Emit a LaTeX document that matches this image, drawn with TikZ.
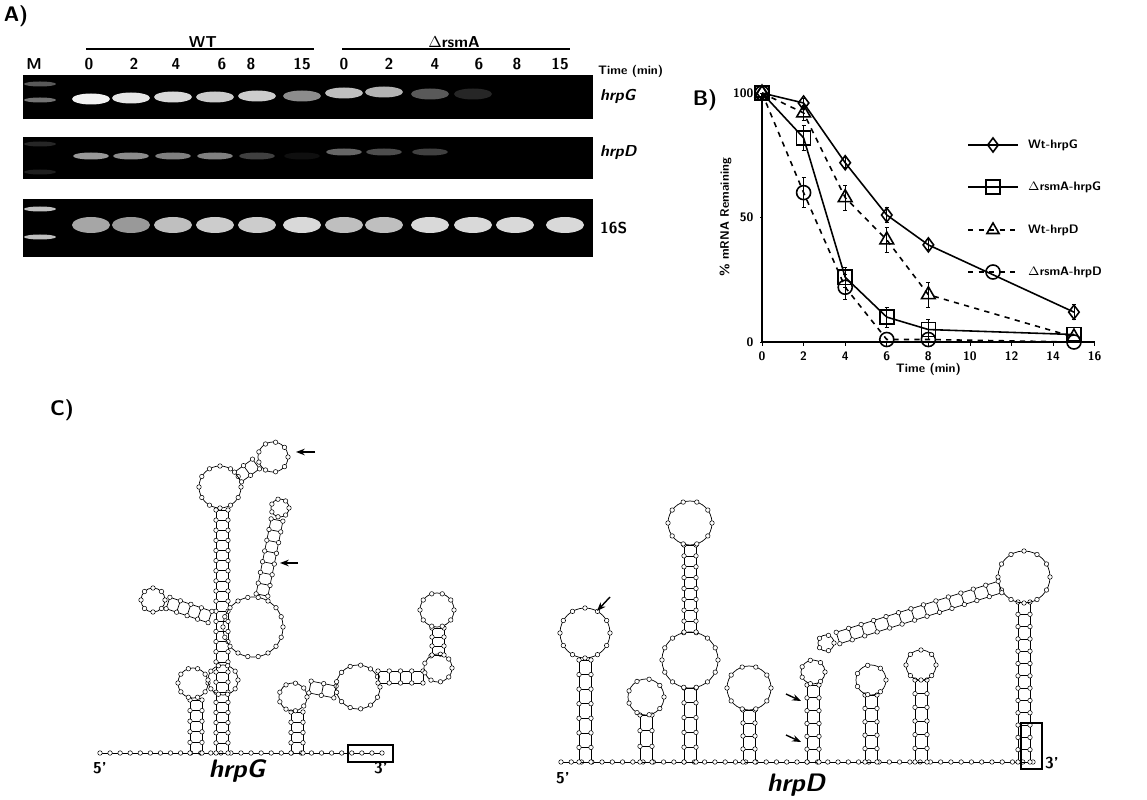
\documentclass[tikz,border=0pt]{standalone}
\usepackage{tikz}
\usetikzlibrary{positioning,calc,arrows.meta,plotmarks}
\tikzset{
  lbl/.style={font=\sffamily\bfseries\small},
  panel/.style={font=\sffamily\bfseries\large},
  band/.style={fill=white,opacity=#1},
  bead/.style={draw,fill=white,line width=0.3pt},
  rna/.style={line width=0.4pt},
  ptr/.style={-{Stealth[length=5pt]},line width=0.8pt},
}
% ring of bases
\newcommand*{\rloop}[4]{%
  \draw[rna] (#1,#2) circle[radius=#3*0.02cm];
  \foreach \k in {1,...,#4}{\draw[bead] ($(#1,#2)+(\k*360/#4:#3)$) circle[radius=0.045cm];}}
% paired stem from (x1,y1) to (x2,y2)
\newcommand*{\stem}[5]{%
  \coordinate (sa) at ($(#1,#2)!0.12cm!90:(#3,#4)$);
  \coordinate (sb) at ($(#3,#4)!0.12cm!-90:(#1,#2)$);
  \coordinate (sc) at ($(#1,#2)!0.12cm!-90:(#3,#4)$);
  \coordinate (sd) at ($(#3,#4)!0.12cm!90:(#1,#2)$);
  \draw[rna] (sa) -- (sb) (sc) -- (sd);
  \foreach \k in {0,...,#5}{
    \draw[rna] ($(sa)!\k/#5!(sb)$) -- ($(sc)!\k/#5!(sd)$);
    \draw[bead] ($(sa)!\k/#5!(sb)$) circle[radius=0.045cm];
    \draw[bead] ($(sc)!\k/#5!(sd)$) circle[radius=0.045cm];}}
\newcommand*{\strand}[5]{%
  \draw[rna] (#1,#2) -- (#3,#4);
  \foreach \k in {0,...,#5}{\draw[bead] ($(#1,#2)!\k/#5!(#3,#4)$) circle[radius=0.045cm];}}

\begin{document}
\begin{tikzpicture}[x=0.02cm,y=-0.02cm]
\useasboundingbox (0,0) rectangle (1147,800);
%% Panel A: gels
\node[panel] (pa) at (16,16) {A)};
\node[lbl] (wt) at (203,42) {WT};
\node[lbl] (ko) at (454,42) {$\Delta$rsmA};
\draw[line width=1.4pt] (86,49) -- (314,49) (342,49) -- (570,49);
\node[lbl] (lm) at (34,64) {M};
\foreach \x/\t in {89/0,134/2,176/4,222/6,251/8,302/15,344/0,389/2,435/4,479/6,517/8,560/15}
  \node[lbl] at (\x,64) {\t};
\node[lbl,font=\sffamily\bfseries\scriptsize,anchor=west] (tm) at (592,71) {Time (min)};
\fill[black] (23,75) rectangle (593,119);
\fill[black] (23,137) rectangle (593,179);
\fill[black] (23,199) rectangle (593,257);
\node[lbl,font=\sffamily\bfseries\itshape\small,anchor=west] (g1) at (594,96) {hrpG};
\node[lbl,font=\sffamily\bfseries\itshape\small,anchor=west] (g2) at (594,153) {hrpD};
\node[lbl,anchor=west] (g3) at (594,228) {16S};
% marker lanes
\foreach \y/\o in {84/0.35,100/0.45,144/0.15,172/0.12,209/0.75,237/0.75}
  \fill[band=\o] (40,\y) ellipse[x radius=0.32cm,y radius=0.05cm];
\foreach \x/\y/\o in {91/99/0.95,131/98/0.9,173/97/0.85,215/97/0.8,257/96/0.8,302/96/0.55,344/93/0.75,384/92/0.7,430/94/0.35,473/94/0.15}{
  \fill[band=\o] (\x,\y) ellipse[x radius=0.38cm,y radius=0.11cm];}
\foreach \x/\y/\o in {91/156/0.6,131/156/0.55,173/156/0.5,215/156/0.5,257/156/0.25,302/156/0.06,344/152/0.4,384/152/0.3,430/152/0.25}{
  \fill[band=\o] (\x,\y) ellipse[x radius=0.36cm,y radius=0.07cm];}
\foreach \x/\o in {91/0.65,131/0.6,173/0.75,215/0.8,257/0.8,302/0.85,344/0.75,384/0.75,430/0.85,473/0.85,515/0.85,565/0.85}{
  \fill[band=\o] (\x,225) ellipse[x radius=0.38cm,y radius=0.16cm];}
%% Panel B: decay plot
\node[panel] (pb) at (705,100) {B)};
\begin{scope}[shift={(762,342)},x=0.416cm,y=0.0498cm]
  \draw[line width=0.6pt] (0,0) -- (16,0) (0,0) -- (0,100);
  \foreach \t in {0,2,...,16}{
    \draw (\t,0) -- (\t,-1.5);
    \node[lbl,font=\sffamily\bfseries\scriptsize,below] at (\t,-1.5) {\t};}
  \foreach \p in {0,50,100}{
    \draw (0,\p) -- (-0.12,\p);
    \node[lbl,font=\sffamily\bfseries\scriptsize,left] at (-0.12,\p) {\p};}
  \node[lbl,font=\sffamily\bfseries\scriptsize] (xl) at (8,-11) {Time (min)};
  \node[lbl,font=\sffamily\bfseries\scriptsize,rotate=90] (yl) at (-1.75,50) {\% mRNA Remaining};
  \draw[line width=0.9pt,mark=diamond,mark size=4pt,mark options={solid,fill=white}]
    plot coordinates {(0,100) (2,96) (4,72) (6,51) (8,39) (15,12)};
  \draw[line width=0.9pt,mark=square,mark size=4pt,mark options={solid,fill=white}]
    plot coordinates {(0,100) (2,82) (4,26) (6,10) (8,5) (15,3)};
  \draw[line width=0.9pt,dashed,mark=triangle,mark size=4.5pt,mark options={solid,fill=white}]
    plot coordinates {(0,100) (2,92) (4,58) (6,41) (8,19) (15,2)};
  \draw[line width=0.9pt,dashed,mark=o,mark size=4pt,mark options={solid,fill=white}]
    plot coordinates {(0,100) (2,60) (4,22) (6,1) (8,1) (15,0)};
  \foreach \t/\p/\e in {2/96/2,4/72/2,6/51/3,8/39/2,15/12/3,2/82/5,4/26/4,6/10/4,8/5/4,2/92/3,4/58/5,6/41/5,8/19/5,2/60/6,4/22/5}
    \draw[line width=0.5pt] (\t,\p-\e) -- (\t,\p+\e) (\t-0.1,\p+\e) -- (\t+0.1,\p+\e) (\t-0.1,\p-\e) -- (\t+0.1,\p-\e);
\end{scope}
% legend
\foreach \y/\d/\m/\t in {145/solid/diamond/Wt-hrpG,187/solid/square/$\Delta$rsmA-hrpG,230/dashed/triangle/Wt-hrpD,272/dashed/o/$\Delta$rsmA-hrpD}{
  \draw[line width=0.9pt,\d] (968,\y) -- (1018,\y);
  \draw[mark=\m,mark size=4pt,mark options={solid,fill=white},line width=0.9pt] plot coordinates {(993,\y)};
  \node[lbl,font=\sffamily\bfseries\scriptsize,anchor=west] at (1022,\y) {\t};}
%% Panel C: secondary structures
\node[panel] (pc) at (62,410) {C)};
% hrpG
\strand{100}{753}{382}{753}{28}
\stem{196}{753}{196}{700}{5}
\rloop{193}{683}{15}{10}
\stem{222}{753}{222}{510}{24}
\rloop{220}{487}{21}{12}
\stem{238}{477}{256}{464}{2}
\rloop{273}{457}{15}{9}
\rloop{253}{627}{30}{18}
\stem{262}{595}{277}{520}{7}
\rloop{280}{508}{9}{7}
\stem{210}{617}{168}{603}{4}
\rloop{153}{600}{12}{8}
\rloop{223}{680}{15}{10}
\stem{297}{753}{297}{712}{4}
\rloop{293}{697}{14}{9}
\stem{310}{687}{335}{692}{2}
\rloop{358}{687}{22}{13}
\stem{378}{677}{423}{677}{4}
\rloop{438}{668}{14}{9}
\stem{438}{655}{438}{628}{3}
\rloop{437}{610}{17}{10}
\draw[thick] (348,745) rectangle (393,762);
\node[lbl] (g5) at (100,768) {5'};
\node[lbl] (g3e) at (381,768) {3'};
\node[font=\sffamily\bfseries\itshape\Large] (gname) at (237,771) {hrpG};
\draw[ptr] (315,452) -- (296,452);
\draw[ptr] (298,563) -- (280,563);
% hrpD
\strand{561}{762}{1033}{762}{46}
\stem{585}{762}{585}{660}{7}
\rloop{585}{633}{25}{12}
\stem{646}{762}{646}{715}{3}
\rloop{646}{697}{18}{9}
\stem{690}{762}{690}{688}{5}
\rloop{690}{660}{28}{14}
\stem{690}{632}{690}{545}{8}
\rloop{690}{523}{22}{10}
\stem{749}{762}{749}{710}{4}
\rloop{749}{688}{22}{10}
\stem{813}{762}{813}{685}{6}
\rloop{813}{672}{12}{7}
\stem{871}{762}{871}{695}{5}
\rloop{871}{680}{15}{7}
\stem{921}{762}{921}{680}{6}
\rloop{921}{665}{15}{8}
\stem{1024}{762}{1024}{602}{13}
\rloop{1024}{577}{26}{12}
\stem{1000}{587}{838}{638}{13}
\rloop{826}{643}{8}{5}
\draw[thick] (1021,723) rectangle (1042,769);
\node[lbl] (d5) at (563,778) {5'};
\node[lbl] (d3e) at (1052,763) {3'};
\node[font=\sffamily\bfseries\itshape\Large] (dname) at (796,785) {hrpD};
\draw[ptr] (610,597) -- (597,611);
\draw[ptr] (786,694) -- (801,701);
\draw[ptr] (786,735) -- (801,742);
\end{tikzpicture}
\end{document}
